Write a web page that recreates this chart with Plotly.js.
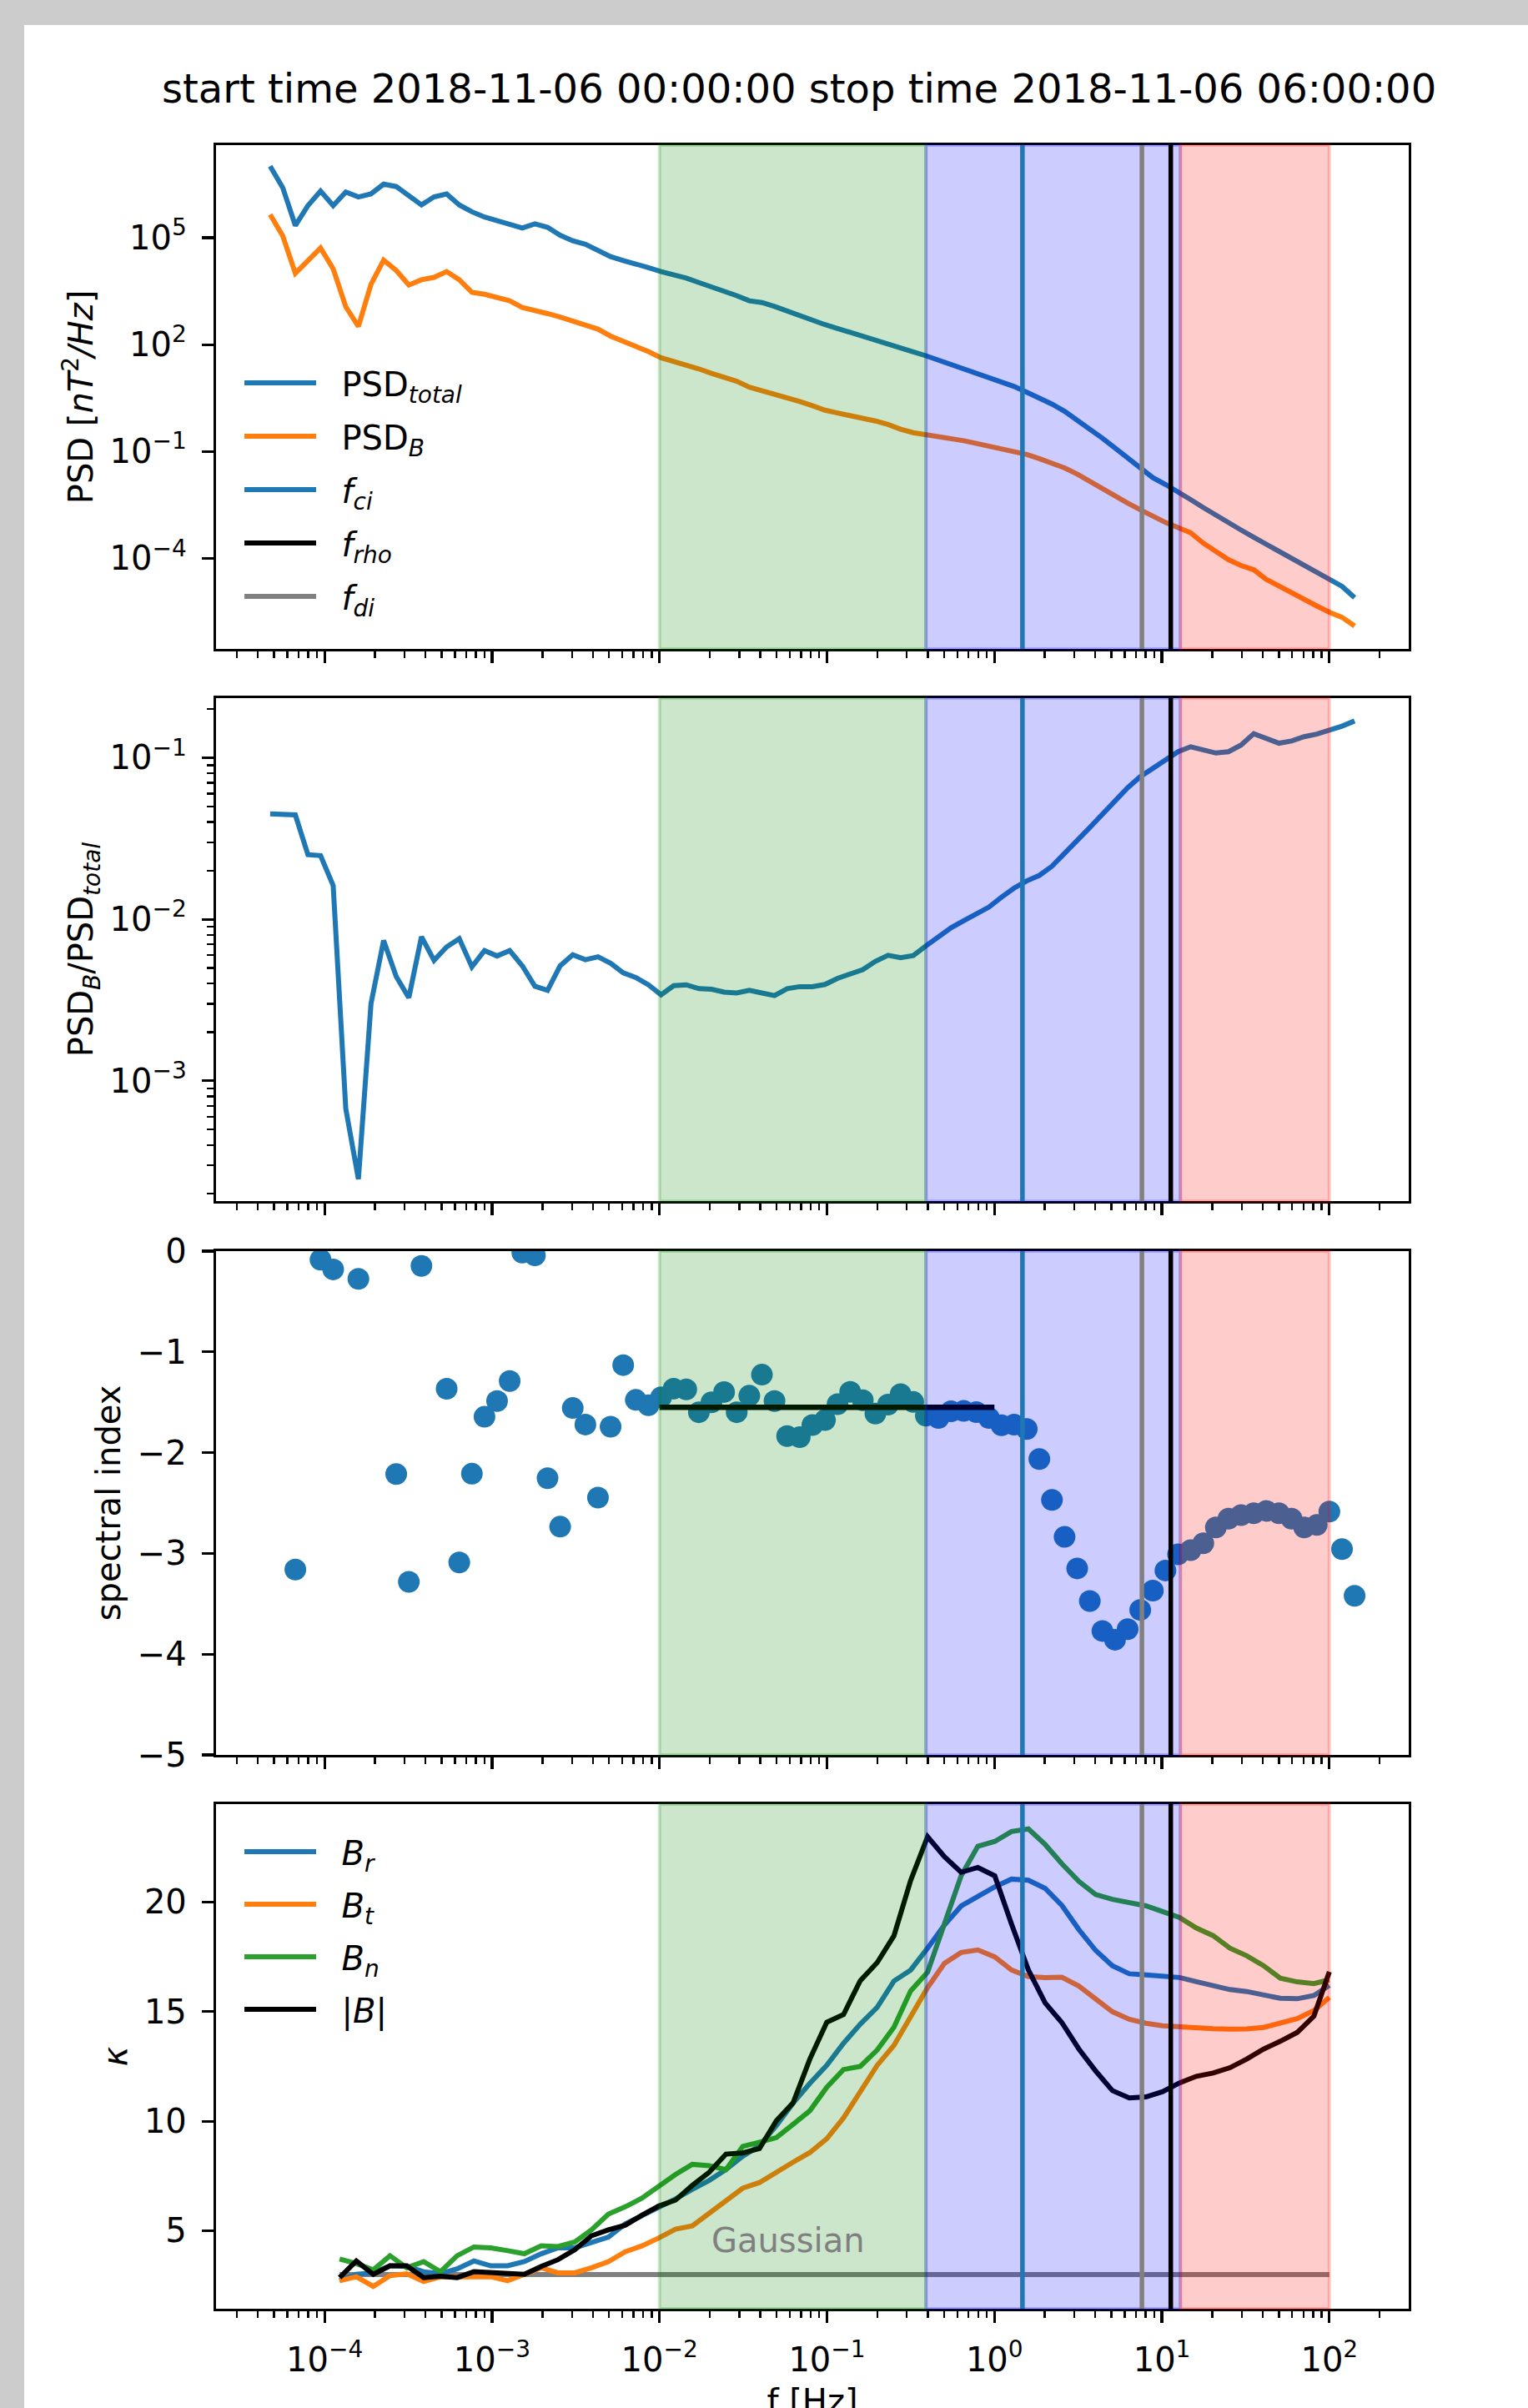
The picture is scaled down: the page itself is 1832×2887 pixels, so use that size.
<!DOCTYPE html>
<html>
<head>
<meta charset="utf-8">
<script src="https://cdn.plot.ly/plotly-3.0.1.min.js"></script>
<style>
html,body{margin:0;padding:0;background:#cccccc;overflow:hidden;width:1832px;height:2887px;}
#chart{position:absolute;left:29px;top:30px;width:1803px;height:2960px;background:#ffffff;}
</style>
</head>
<body>
<div id="chart"></div>
<script>
// ---------- data ----------
const freq = [4.732e-5, 5.627e-5, 6.693e-5, 7.960e-5, 9.467e-5, 1.126e-4, 1.339e-4, 1.593e-4, 1.894e-4, 2.253e-4,
  2.679e-4, 3.187e-4, 3.790e-4, 4.507e-4, 5.361e-4, 6.376e-4, 7.583e-4, 9.018e-4, 1.072e-3, 1.275e-3,
  1.517e-3, 1.804e-3, 2.146e-3, 2.552e-3, 3.035e-3, 3.610e-3, 4.293e-3, 5.106e-3, 6.073e-3, 7.223e-3,
  8.590e-3, 1.022e-2, 1.215e-2, 1.445e-2, 1.719e-2, 2.044e-2, 2.431e-2, 2.892e-2, 3.439e-2, 4.090e-2,
  4.864e-2, 5.785e-2, 6.881e-2, 8.184e-2, 9.732e-2, 0.1157, 0.1377, 0.1637, 0.1947, 0.2316,
  0.2754, 0.3276, 0.3896, 0.4634, 0.5511, 0.6555, 0.7796, 0.9271, 1.103, 1.311,
  1.560, 1.855, 2.206, 2.624, 3.121, 3.712, 4.414, 5.250, 6.244, 7.426,
  8.831, 10.50, 12.49, 14.86, 17.67, 21.01, 24.99, 29.72, 35.35, 42.04,
  50.00, 59.47, 70.72, 84.11, 100.0, 119.0, 141.5];

const psdTotal = [1.01e7, 2.54e6, 2.18e5, 7.94e5, 2.03e6, 7.94e5, 1.90e6, 1.39e6, 1.69e6, 3.17e6,
  2.71e6, 1.45e6, 8.30e5, 1.39e6, 1.69e6, 8.30e5, 5.32e5, 3.80e5, 2.98e5, 2.33e5,
  1.87e5, 2.44e5, 1.95e5, 1.17e5, 8.17e4, 6.53e4, 4.38e4, 2.93e4, 2.29e4, 1.87e4,
  1.44e4, 1.12e4, 9.18e3, 7.35e3, 5.50e3, 4.21e3, 3.15e3, 2.36e3, 1.69e3, 1.51e3,
  1.18e3, 863, 632, 473, 362, 283, 222, 177, 136, 102,
  79.4, 62.2, 48.6, 36.4, 27.9, 21.3, 16.0, 12.2, 9.33, 6.68,
  4.58, 3.21, 2.14, 1.34, 0.769, 0.421, 0.236, 0.126, 0.0676, 0.0339,
  0.0185, 0.0119, 7.60e-3, 4.46e-3, 2.67e-3, 1.60e-3, 9.77e-4, 6.25e-4, 3.92e-4, 2.51e-4,
  1.60e-4, 1.00e-4, 6.43e-5, 4.03e-5, 2.58e-5, 1.65e-5, 7.91e-6];

const psdB = [4.45e5, 1.12e5, 1.00e4, 2.19e4, 5.12e4, 1.34e4, 1.15e3, 324, 4.92e3, 2.34e4,
  1.20e4, 4.70e3, 6.58e3, 7.69e3, 1.12e4, 6.58e3, 2.94e3, 2.58e3, 2.06e3, 1.69e3,
  1.10e3, 925, 740, 592, 462, 370, 271, 173, 124, 95.1,
  63.5, 42.6, 33.3, 27.9, 20.8, 15.6, 12.5, 9.33, 6.40, 5.12,
  3.92, 3.13, 2.51, 1.92, 1.44, 1.20, 1.03, 0.859, 0.719, 0.575,
  0.421, 0.337, 0.301, 0.269, 0.241, 0.201, 0.169, 0.144, 0.121, 0.103,
  0.0826, 0.0632, 0.0484, 0.0347, 0.0232, 0.0142, 9.10e-3, 5.82e-3, 3.56e-3, 2.33e-3,
  1.49e-3, 1.02e-3, 7.31e-4, 5.24e-4, 2.68e-4, 1.53e-4, 9.18e-5, 6.30e-5, 4.81e-5, 2.58e-5,
  1.65e-5, 1.06e-5, 7.08e-6, 4.63e-6, 3.10e-6, 2.22e-6, 1.27e-6];

const psdRatio = [0.0450, 0.0450, 0.0443, 0.0251, 0.0248, 0.0162, 6.73e-4, 2.46e-4, 3.00e-3, 7.40e-3,
  4.42e-3, 3.27e-3, 7.80e-3, 5.57e-3, 6.75e-3, 7.59e-3, 5.08e-3, 6.40e-3, 5.93e-3, 6.40e-3,
  5.15e-3, 3.85e-3, 3.63e-3, 5.15e-3, 6.03e-3, 5.62e-3, 5.86e-3, 5.35e-3, 4.66e-3, 4.36e-3,
  3.93e-3, 3.41e-3, 3.88e-3, 3.93e-3, 3.72e-3, 3.69e-3, 3.54e-3, 3.50e-3, 3.63e-3, 3.50e-3,
  3.37e-3, 3.72e-3, 3.83e-3, 3.83e-3, 3.95e-3, 4.31e-3, 4.56e-3, 4.88e-3, 5.49e-3, 5.99e-3,
  5.78e-3, 5.96e-3, 6.84e-3, 7.79e-3, 8.86e-3, 9.81e-3, 0.0108, 0.0119, 0.0137, 0.0156,
  0.0173, 0.0187, 0.0213, 0.0259, 0.0308, 0.0370, 0.0450, 0.0538, 0.0652, 0.0764,
  0.0857, 0.0960, 0.109, 0.117, 0.111, 0.107, 0.109, 0.120, 0.141, 0.132,
  0.123, 0.127, 0.135, 0.140, 0.147, 0.157, 0.169];

const spectralIndex = [null, null, -3.16, null, -0.084, -0.181, null, -0.275, null, null,
  -2.212, -3.282, -0.146, null, -1.366, -3.090, -2.209, -1.644, -1.488, -1.289,
  -0.014, -0.042, -2.254, -2.735, -1.557, -1.721, -2.446, -1.742, -1.131, -1.476,
  -1.530, -1.450, -1.365, -1.372, -1.599, -1.500, -1.398, -1.599, -1.435, -1.226,
  -1.488, -1.835, -1.847, -1.726, -1.677, -1.519, -1.396, -1.479, -1.612, -1.523,
  -1.420, -1.497, -1.633, -1.656, -1.589, -1.585, -1.597, -1.656, -1.728, -1.722,
  -1.765, -2.063, -2.469, -2.836, -3.149, -3.473, -3.770, -3.857, -3.752, -3.561,
  -3.369, -3.170, -3.010, -2.968, -2.899, -2.742, -2.655, -2.620, -2.602, -2.578,
  -2.602, -2.655, -2.742, -2.718, -2.585, -2.958, -3.421];

const fitFreq = [0.01, 1.0];
const fitIndex = [-1.55, -1.55];

const kappaFreq = [1.230e-4, 1.549e-4, 1.954e-4, 2.460e-4, 3.097e-4, 3.908e-4, 4.920e-4, 6.194e-4, 7.798e-4, 9.84e-4,
  1.239e-3, 1.560e-3, 1.968e-3, 2.477e-3, 3.119e-3, 3.926e-3, 4.955e-3, 6.237e-3, 7.852e-3, 9.91e-3,
  1.247e-2, 1.570e-2, 1.982e-2, 2.495e-2, 3.141e-2, 3.954e-2, 4.989e-2, 6.281e-2, 7.907e-2, 9.98e-2,
  0.1256, 0.1581, 0.1995, 0.2512, 0.3162, 0.3990, 0.5023, 0.6324, 0.7962, 1.005,
  1.265, 1.596, 2.009, 2.529, 3.192, 4.018, 5.058, 6.383, 8.035, 10.12,
  12.76, 16.07, 20.23, 25.47, 32.14, 40.46, 50.93, 64.27, 80.91, 100.0];

const kappaBr = [2.72, 3.01, 3.08, 3.40, 3.37, 3.13, 3.04, 3.26, 3.62, 3.40,
  3.40, 3.59, 3.95, 4.22, 4.22, 4.49, 4.71, 5.31, 5.67, 6.09,
  6.45, 6.89, 7.30, 7.80, 8.40, 8.88, 9.80, 10.83, 11.73, 12.55,
  13.56, 14.43, 15.20, 16.40, 16.90, 17.90, 18.95, 19.82, 20.26, 20.70,
  21.05, 21.00, 20.63, 19.85, 18.75, 17.80, 17.10, 16.73, 16.68, 16.64,
  16.56, 16.37, 16.19, 16.01, 15.92, 15.79, 15.61, 15.59, 15.74, 16.20];

const kappaBt = [2.72, 2.90, 2.46, 2.95, 3.04, 2.68, 2.90, 2.90, 2.95, 2.90,
  2.72, 3.04, 3.31, 3.08, 3.08, 3.31, 3.59, 4.04, 4.31, 4.67,
  5.07, 5.22, 5.80, 6.40, 6.94, 7.20, 7.69, 8.13, 8.57, 9.20,
  10.15, 11.30, 12.55, 13.46, 14.80, 16.10, 17.20, 17.70, 17.82, 17.50,
  16.90, 16.60, 16.55, 16.57, 16.17, 15.55, 15.00, 14.65, 14.47, 14.36,
  14.30, 14.26, 14.22, 14.20, 14.21, 14.28, 14.45, 14.68, 15.05, 15.65];

const kappaBn = [3.71, 3.50, 3.22, 3.86, 3.31, 3.59, 3.13, 3.86, 4.26, 4.22,
  4.09, 3.95, 4.31, 4.28, 4.49, 5.04, 5.76, 6.09, 6.49, 7.03,
  7.57, 8.03, 7.97, 7.79, 8.85, 9.04, 9.25, 9.86, 10.48, 11.55,
  12.36, 12.50, 13.25, 14.29, 15.95, 16.80, 19.00, 21.20, 22.55, 22.77,
  23.22, 23.34, 22.63, 21.75, 20.95, 20.35, 20.13, 20.00, 19.83, 19.57,
  19.30, 18.82, 18.47, 17.90, 17.55, 17.10, 16.53, 16.36, 16.28, 16.46];

const kappaBmag = [2.86, 3.62, 3.01, 3.40, 3.40, 2.86, 2.92, 2.86, 3.13, 3.08,
  3.08, 3.01, 3.37, 3.68, 4.13, 4.77, 5.04, 5.25, 5.71, 6.13,
  6.40, 7.07, 7.67, 8.50, 8.55, 8.75, 10.02, 10.84, 12.84, 14.52,
  14.87, 16.41, 17.24, 18.46, 20.99, 22.99, 22.08, 21.36, 21.58, 21.20,
  19.00, 16.90, 15.40, 14.50, 13.30, 12.30, 11.40, 11.06, 11.11, 11.35,
  11.75, 12.05, 12.20, 12.44, 12.84, 13.29, 13.65, 14.05, 14.80, 16.82];

const gaussFreq = [1.23e-4, 100];
const gaussKappa = [3, 3];
const gaussLabelFreq = 0.02;
const gaussLabelKappa = 4;

// characteristic frequencies [Hz]
const fCi = 1.47, fRho = 11.3, fDi = 7.6;

// shaded frequency ranges
const bandStart = [0.01, 0.39, 12.9];
const bandEnd = [0.39, 12.9, 100];
const bandColor = ['rgba(0,128,0,0.2)', 'rgba(0,0,255,0.2)', 'rgba(255,0,0,0.2)'];

// ticks
const xTickVals = [1e-4, 1e-3, 1e-2, 1e-1, 1e0, 1e1, 1e2];
const xTickText = ['10<sup>−4</sup>', '10<sup>−3</sup>', '10<sup>−2</sup>', '10<sup>−1</sup>', '10<sup>0</sup>', '10<sup>1</sup>', '10<sup>2</sup>'];
const y1TickVals = [1e-4, 1e-1, 1e2, 1e5];
const y1TickText = ['10<sup>−4</sup>', '10<sup>−1</sup>', '10<sup>2</sup>', '10<sup>5</sup>'];
const y2TickVals = [1e-3, 1e-2, 1e-1];
const y2TickText = ['10<sup>−3</sup>', '10<sup>−2</sup>', '10<sup>−1</sup>'];
const y3TickVals = [-5, -4, -3, -2, -1, 0];
const y3TickText = ['−5', '−4', '−3', '−2', '−1', '0'];
const y4TickVals = [5, 10, 15, 20];
const y4TickText = ['5', '10', '15', '20'];

// ---------- styling ----------
const C0 = '#1f77b4', C1 = '#ff7f0e', C2 = '#2ca02c', GRAY = '#808080';
const LW = 6;
const PAD = '\u00a0\u00a0';   // gap between legend line sample and its label
function minorLog(e0, e1) {
  const v = [];
  for (let e = e0; e <= e1; e++) for (let m = 2; m <= 9; m++) v.push(m * Math.pow(10, e));
  return v;
}
const minorX = minorLog(-5, 2);
const minorY2 = minorLog(-4, -1);

const FONT = 'DejaVu Sans, Verdana, sans-serif';
const XRANGE = [-4.648, 2.474];

function xAxis(showLabels) {
  return {
    type: 'log', range: XRANGE, showgrid: false, zeroline: false,
    showline: true, linecolor: 'black', linewidth: 3.2, mirror: true,
    ticks: 'outside', ticklen: 14, tickwidth: 3.2, tickcolor: 'black',
    tickmode: 'array', tickvals: xTickVals, ticktext: xTickText,
    showticklabels: showLabels, ticklabelstandoff: 10,
    tickfont: {size: 40, family: FONT, color: 'black'},
    minor: {ticks: 'outside', ticklen: 8, tickwidth: 2.4, tickcolor: 'black',
            tickmode: 'array', tickvals: minorX, showgrid: false},
    automargin: false, fixedrange: true
  };
}
function yAxis(extra) {
  return Object.assign({
    showgrid: false, zeroline: false,
    showline: true, linecolor: 'black', linewidth: 3.2, mirror: true,
    ticks: 'outside', ticklen: 14, tickwidth: 3.2, tickcolor: 'black',
    tickmode: 'array', ticklabelstandoff: 10,
    tickfont: {size: 40, family: FONT, color: 'black'},
    automargin: false, fixedrange: true
  }, extra);
}

const traces = [
  {x: freq, y: psdTotal, xaxis: 'x', yaxis: 'y', mode: 'lines', line: {color: C0, width: LW},
   name: PAD + 'PSD<sub><i>total</i></sub>', legend: 'legend', legendgroup: 'a1'},
  {x: freq, y: psdB, xaxis: 'x', yaxis: 'y', mode: 'lines', line: {color: C1, width: LW},
   name: PAD + 'PSD<sub><i>B</i></sub>', legend: 'legend', legendgroup: 'a2'},
  {x: [null], y: [null], xaxis: 'x', yaxis: 'y', mode: 'lines', line: {color: C0, width: LW},
   name: PAD + '<i>f<sub>ci</sub></i>', legend: 'legend', legendgroup: 'a3'},
  {x: [null], y: [null], xaxis: 'x', yaxis: 'y', mode: 'lines', line: {color: 'black', width: LW},
   name: PAD + '<i>f<sub>rho</sub></i>', legend: 'legend', legendgroup: 'a4'},
  {x: [null], y: [null], xaxis: 'x', yaxis: 'y', mode: 'lines', line: {color: GRAY, width: LW},
   name: PAD + '<i>f<sub>di</sub></i>', legend: 'legend', legendgroup: 'a5'},

  {x: freq, y: psdRatio, xaxis: 'x2', yaxis: 'y2', mode: 'lines', line: {color: C0, width: LW},
   showlegend: false, name: 'ratio'},

  {x: freq, y: spectralIndex, xaxis: 'x3', yaxis: 'y3', mode: 'markers',
   marker: {color: C0, size: 26, line: {width: 0}}, showlegend: false, name: 'spectral index'},
  {x: fitFreq, y: fitIndex, xaxis: 'x3', yaxis: 'y3', mode: 'lines', line: {color: 'black', width: 6.5},
   showlegend: false, name: 'fit'},

  {x: gaussFreq, y: gaussKappa, xaxis: 'x4', yaxis: 'y4', mode: 'lines', line: {color: GRAY, width: LW},
   showlegend: false, name: 'Gaussian'},
  {x: kappaFreq, y: kappaBr, xaxis: 'x4', yaxis: 'y4', mode: 'lines', line: {color: C0, width: LW},
   name: PAD + '<i>B<sub>r</sub></i>', legend: 'legend2', legendgroup: 'b1'},
  {x: kappaFreq, y: kappaBt, xaxis: 'x4', yaxis: 'y4', mode: 'lines', line: {color: C1, width: LW},
   name: PAD + '<i>B<sub>t</sub></i>', legend: 'legend2', legendgroup: 'b2'},
  {x: kappaFreq, y: kappaBn, xaxis: 'x4', yaxis: 'y4', mode: 'lines', line: {color: C2, width: LW},
   name: PAD + '<i>B<sub>n</sub></i>', legend: 'legend2', legendgroup: 'b3'},
  {x: kappaFreq, y: kappaBmag, xaxis: 'x4', yaxis: 'y4', mode: 'lines', line: {color: 'black', width: LW},
   name: PAD + '|<i>B</i>|', legend: 'legend2', legendgroup: 'b4'}
];
traces.forEach(t => { t.hoverinfo = 'skip'; });

const shapes = [];
['', '2', '3', '4'].forEach(s => {
  for (let i = 0; i < bandStart.length; i++) {
    shapes.push({type: 'rect', xref: 'x' + s, yref: 'y' + s + ' domain', x0: bandStart[i], x1: bandEnd[i], y0: 0, y1: 1,
      fillcolor: bandColor[i], line: {color: bandColor[i], width: 4}, layer: 'above'});
  }
  [[fCi, C0], [fDi, GRAY], [fRho, 'black']].forEach(([f, c]) => {
    shapes.push({type: 'line', xref: 'x' + s, yref: 'y' + s + ' domain', x0: f, x1: f, y0: 0, y1: 1,
      line: {color: c, width: 5.5}, layer: 'above'});
  });
});

const legendStyle = {xref: 'paper', yref: 'paper', xanchor: 'left', yanchor: 'top',
  bgcolor: 'rgba(0,0,0,0)', borderwidth: 0, font: {size: 40, family: FONT, color: 'black'},
  traceorder: 'grouped', itemwidth: 86};

const layout = {
  width: 1803, height: 2960,
  margin: {l: 230, r: 143, t: 144, b: 222, pad: 0},
  paper_bgcolor: '#ffffff', plot_bgcolor: '#ffffff',
  font: {family: FONT, size: 40, color: 'black'},
  title: {text: 'start time 2018-11-06 00:00:00 stop time 2018-11-06 06:00:00',
          font: {size: 48, family: FONT, color: 'black'},
          xref: 'container', yref: 'container', x: 0.5153, y: 0.97426, xanchor: 'center', yanchor: 'middle'},
  showlegend: true,
  legend: Object.assign({}, legendStyle, {x: 0.0203, y: 0.9027, tracegroupgap: 9}),
  legend2: Object.assign({}, legendStyle, {x: 0.0203, y: 0.2238, tracegroupgap: 8}),
  xaxis: Object.assign(xAxis(false), {anchor: 'y', domain: [0, 1]}),
  xaxis2: Object.assign(xAxis(false), {anchor: 'y2', domain: [0, 1]}),
  xaxis3: Object.assign(xAxis(false), {anchor: 'y3', domain: [0, 1]}),
  xaxis4: Object.assign(xAxis(true), {anchor: 'y4', domain: [0, 1],
          title: {text: 'f [Hz]', font: {size: 40, family: FONT, color: 'black'}, standoff: 14}}),
  yaxis: yAxis({anchor: 'x', domain: [0.7672, 1], type: 'log', range: [-6.537, 7.596],
          tickvals: y1TickVals, ticktext: y1TickText,
          title: {text: 'PSD [<i>nT</i><sup>2</sup><i>/Hz</i>]', font: {size: 40, family: FONT}, standoff: 8}}),
  yaxis2: yAxis({anchor: 'x2', domain: [0.5119, 0.7444], type: 'log', range: [-3.745, -0.631],
          tickvals: y2TickVals, ticktext: y2TickText,
          minor: {ticks: 'outside', ticklen: 8, tickwidth: 2.4, tickcolor: 'black', tickmode: 'array', tickvals: minorY2, showgrid: false},
          title: {text: 'PSD<sub><i>B</i></sub>/PSD<sub><i>total</i></sub>', font: {size: 40, family: FONT}, standoff: 8}}),
  yaxis3: yAxis({anchor: 'x3', domain: [0.2560, 0.4888], type: 'linear', range: [-5, 0],
          tickvals: y3TickVals, ticktext: y3TickText,
          title: {text: 'spectral index', font: {size: 40, family: FONT}, standoff: 8}}),
  yaxis4: yAxis({anchor: 'x4', domain: [0, 0.2332], type: 'linear', range: [1.44, 24.47],
          tickvals: y4TickVals, ticktext: y4TickText,
          title: {text: '<i>κ</i>', font: {size: 40, family: FONT}, standoff: 8}}),
  shapes: shapes,
  annotations: [
    {xref: 'x4', yref: 'y4', x: Math.log10(gaussLabelFreq), y: gaussLabelKappa, text: 'Gaussian',
     showarrow: false, xanchor: 'left', yanchor: 'bottom', yshift: -10,
     font: {size: 40, family: FONT, color: GRAY}}
  ]
};

Plotly.newPlot('chart', traces, layout, {staticPlot: true, displayModeBar: false});
</script>
</body>
</html>
